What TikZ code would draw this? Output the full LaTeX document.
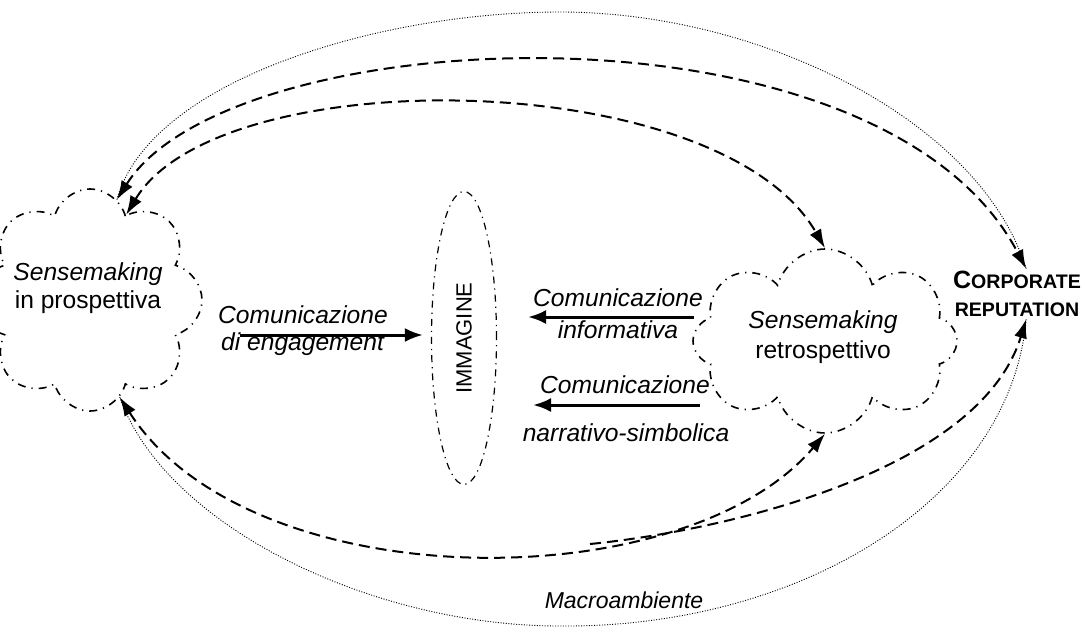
\documentclass[tikz,border=0pt]{standalone}
\usepackage{fontspec}
\setmainfont{Liberation Sans}
\usetikzlibrary{positioning}
\usetikzlibrary{arrows.meta}
\usetikzlibrary{shapes.symbols}
\usetikzlibrary{shapes.geometric}

\begin{document}
\begin{tikzpicture}[x=0.5pt, y=-0.5pt, node distance=2pt, >={Latex[length=9.5pt,width=6.5pt]},
sense/.style={cloud, cloud puffs=8, cloud puff arc=150, draw, line width=0.8pt, dash pattern=on 4pt off 3pt on 0.6pt off 3pt, inner sep=0pt},
lbl/.style={font=\fontsize{12.3}{14}\selectfont, align=center, inner sep=0pt},
flow/.style={line width=1pt, dash pattern=on 5.5pt off 3pt},
env/.style={line width=0.45pt, dash pattern=on 0.5pt off 0.8pt},
comm/.style={line width=1.5pt, ->, >={Latex[length=9pt,width=7pt]}}]

\useasboundingbox (0,0) rectangle (1085,632);

% clouds and image
\node [sense, minimum width=112pt, minimum height=111pt] (prosp) at (90,300) {};
\node [lbl] (prosptxt) at (88,288) {\textit{Sensemaking}\\in prospettiva};
\node [sense, minimum width=132pt, minimum height=92pt] (retro) at (825,341) {};
\node [lbl, font=\fontsize{12.3}{15}\selectfont] (retrotxt) at (823,337) {\textit{Sensemaking}\\retrospettivo};
\node [ellipse, draw, line width=0.6pt, dash pattern=on 3.5pt off 2.5pt on 0.6pt off 2.5pt,
  minimum width=32.5pt, minimum height=146.5pt, inner sep=0pt] (immag) at (464,338)
  {\fontsize{11}{11}\selectfont\rotatebox{90}{IMMAGINE}};
\node [align=center, inner sep=1pt, font=\bfseries\fontsize{9.8}{14}\selectfont] (corp) at (1017,294)
  {{\fontsize{12.5}{14}\selectfont C}ORPORATE\\REPUTATION};
\node [font=\itshape\fontsize{11.5}{12}\selectfont] (macro) at (624,600) {Macroambiente};

% comunicazione
\node [lbl] (engtxt) at (303,331) {\textit{Comunicazione}\\[-0.6pt]\textit{di engagement}};
\coordinate (engstart) at (240,335);
\draw [comm, shorten >=4pt] (engstart) -- (engstart -| immag.west);

\node [lbl, font=\fontsize{12.3}{16}\selectfont] (infotxt) at (618,314) {\textit{Comunicazione}\\\textit{informativa}};
\coordinate (infostart) at (694,317);
\coordinate (infoend) at (528,317);
\draw [comm] (infostart) -- (infoend);

\node [lbl] (narrtxt1) at (625,385) {\textit{Comunicazione}};
\node [lbl] (narrtxt2) at (626,433) {\textit{narrativo-simbolica}};
\coordinate (narrstart) at (700,405);
\coordinate (narrend) at (533,405);
\draw [comm] (narrstart) -- (narrend);

% macroambiente
\draw [env] (prosp.75) .. controls (150,80) and (380,12) .. (560,12)
  .. controls (760,12) and (980,120) .. (corp.70);
\draw [env] (prosp.-73) .. controls (165,525) and (370,626) .. (560,626)
  .. controls (800,628) and (1010,500) .. (corp.-70);

% relazioni
\draw [flow, <->] (prosp.75) .. controls (230,20) and (880,-10) .. (corp.70);
\draw [flow, <->] (prosp.67) .. controls (219,60) and (720,65) .. (retro.north);
\draw [flow, <->] (prosp.-73) .. controls (250,600) and (684,600) .. (retro.south);
\coordinate (merge) at (590,544);
\draw [flow, ->] (merge) .. controls (730,530) and (980,470) .. (corp.-70);
\end{tikzpicture}
\end{document}
